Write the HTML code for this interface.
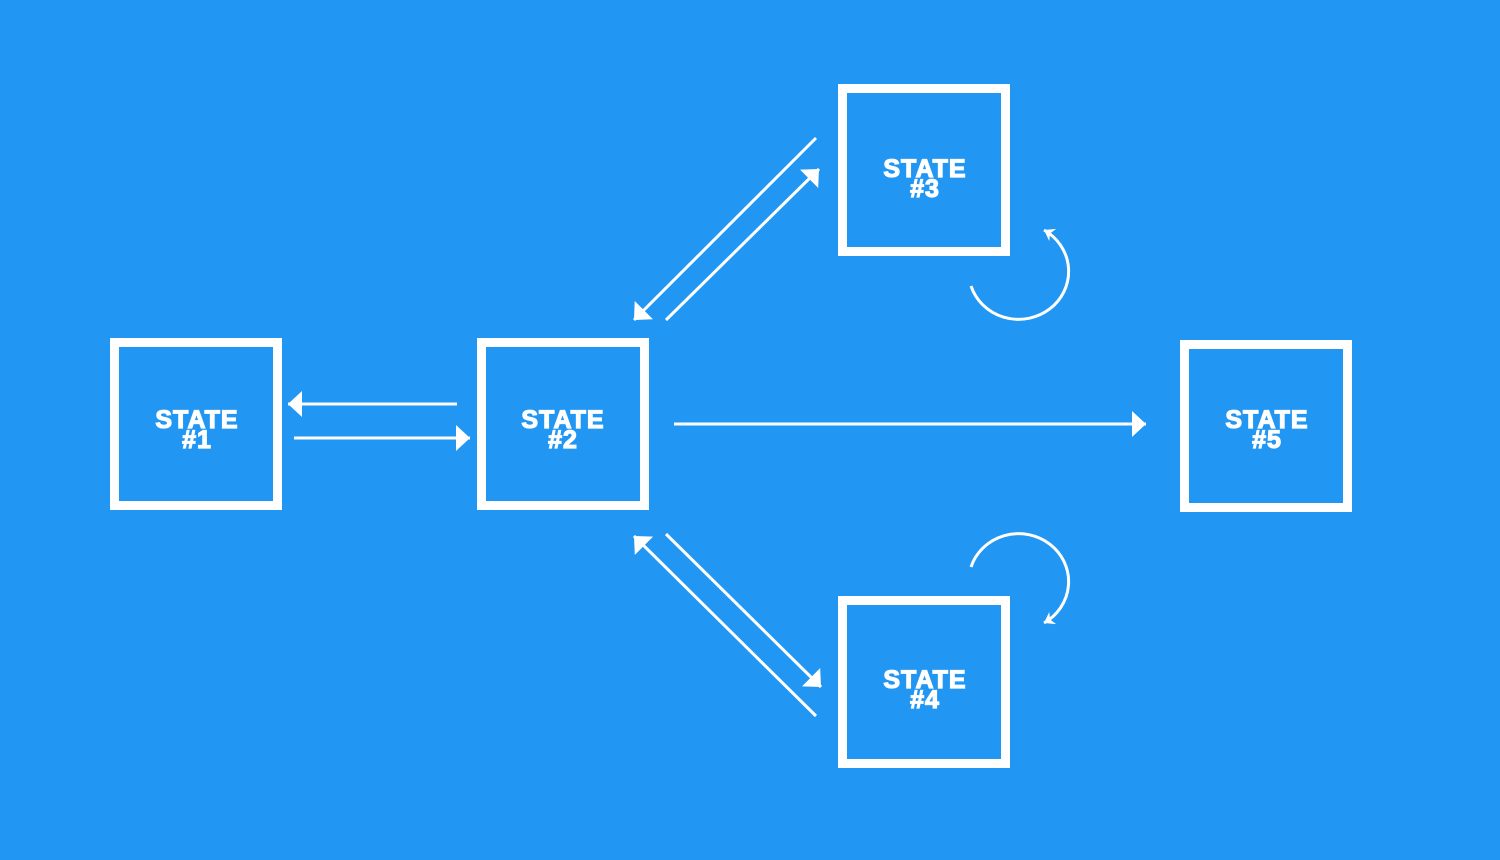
<!DOCTYPE html>
<html><head><style>
html,body{margin:0;padding:0;background:#2196F3;}
svg{display:block}
text{font-family:"Liberation Sans",Arial,sans-serif;font-weight:bold;font-size:25px;fill:#fff;stroke:#fff;stroke-width:1.2px;letter-spacing:1px;text-anchor:middle}
</style></head><body>
<svg width="1500" height="860" viewBox="0 0 1500 860" xmlns="http://www.w3.org/2000/svg">
<defs>
<marker id="a" markerUnits="userSpaceOnUse" markerWidth="16" markerHeight="26" refX="14" refY="13" orient="auto">
<path d="M0,0 L14,13 L0,26 z" fill="#fff"/>
</marker>
<marker id="s" markerUnits="userSpaceOnUse" markerWidth="12" markerHeight="14" refX="10" refY="7" orient="auto">
<path d="M0,0 L10,7 L0,14 L3,7 z" fill="#fff"/>
</marker>
</defs>
<rect width="1500" height="860" fill="#2196F3"/>
<g fill="none" stroke="#fff" stroke-width="9">
<rect x="114.5" y="342.5" width="163" height="163"/>
<rect x="481.5" y="342.5" width="163" height="163"/>
<rect x="842.5" y="88.5" width="163" height="163"/>
<rect x="842.5" y="600.5" width="163" height="163"/>
<rect x="1184.5" y="344.5" width="163" height="163"/>
</g>
<g stroke="#fff" stroke-width="3" fill="none">
<line x1="457" y1="404" x2="288" y2="404" marker-end="url(#a)"/>
<line x1="294" y1="438" x2="470" y2="438" marker-end="url(#a)"/>
<line x1="674" y1="424" x2="1146" y2="424" marker-end="url(#a)"/>
<line x1="816" y1="138" x2="634" y2="320" marker-end="url(#a)"/>
<line x1="666" y1="320" x2="819" y2="169" marker-end="url(#a)"/>
<line x1="666" y1="534" x2="821" y2="687" marker-end="url(#a)"/>
<line x1="816" y1="716" x2="634" y2="536" marker-end="url(#a)"/>
<path d="M971,286 A50,48 0 1 0 1044,230" marker-end="url(#s)"/>
<path d="M971,567 A50,48 0 1 1 1044,623" marker-end="url(#s)"/>
</g>
<text x="197" y="428">STATE</text><text x="197" y="448">#1</text>
<text x="563" y="428">STATE</text><text x="563" y="448">#2</text>
<text x="925" y="177">STATE</text><text x="925" y="197">#3</text>
<text x="925" y="688">STATE</text><text x="925" y="708">#4</text>
<text x="1267" y="428">STATE</text><text x="1267" y="448">#5</text>
</svg>
</body></html>
